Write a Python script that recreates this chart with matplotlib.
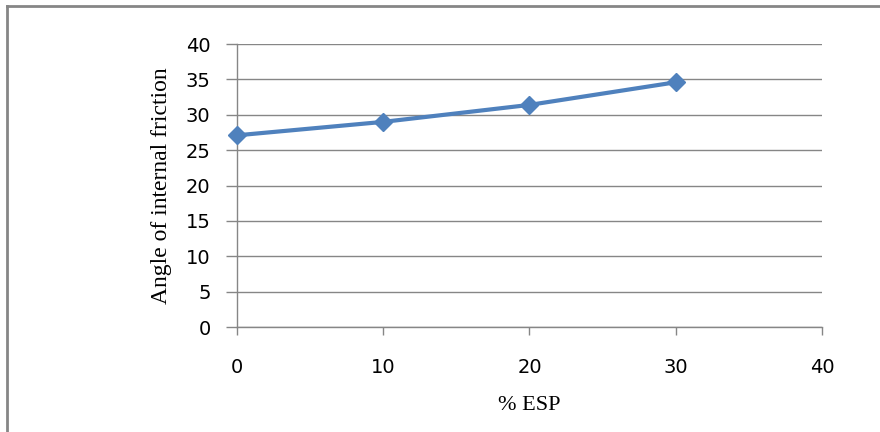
import matplotlib
matplotlib.use('Agg')
import matplotlib.pyplot as plt
from matplotlib.lines import Line2D

esp = [0, 10, 20, 30]
friction = [27.1, 29.0, 31.4, 34.6]
xticks = [0, 10, 20, 30, 40]
yticks = [0, 5, 10, 15, 20, 25, 30, 35, 40]

gray = '#868686'
blue = '#4F81BD'

fig = plt.figure(figsize=(8.8, 4.32), dpi=100)
ax = fig.add_axes([0.2693, 0.243, 0.6648, 0.655])

ax.plot(esp, friction, color=blue, linewidth=3, marker='D', markersize=9,
        markerfacecolor=blue, markeredgecolor=blue, zorder=3, clip_on=False)

ax.set_xlim(0, 40)
ax.set_ylim(0, 40)
ax.set_xticks(xticks)
ax.set_yticks(yticks)
ax.yaxis.grid(True, color=gray, linewidth=1)
ax.set_axisbelow(True)

for s in ['top', 'right']:
    ax.spines[s].set_visible(False)
for s in ['left', 'bottom']:
    ax.spines[s].set_color(gray)
    ax.spines[s].set_linewidth(1)

ax.tick_params(axis='y', direction='out', length=8, width=1, color=gray,
               pad=11, labelsize=14, labelcolor='#000000')
ax.tick_params(axis='x', direction='out', length=6, width=1, color=gray,
               pad=16, labelsize=14, labelcolor='#000000')

ax.set_ylabel('Angle of internal friction', family='Liberation Serif',
              fontsize=17, labelpad=10)
ax.set_xlabel('% ESP', family='Liberation Serif', fontsize=16, labelpad=14)

# outer frame (only top and left are visible in the crop)
fig.add_artist(Line2D([0.008, 1.0], [0.986, 0.986], transform=fig.transFigure,
                      color=gray, linewidth=2))
fig.add_artist(Line2D([0.008, 0.008], [0.0, 0.986], transform=fig.transFigure,
                      color=gray, linewidth=2))

fig.savefig('out.png', dpi=100)
